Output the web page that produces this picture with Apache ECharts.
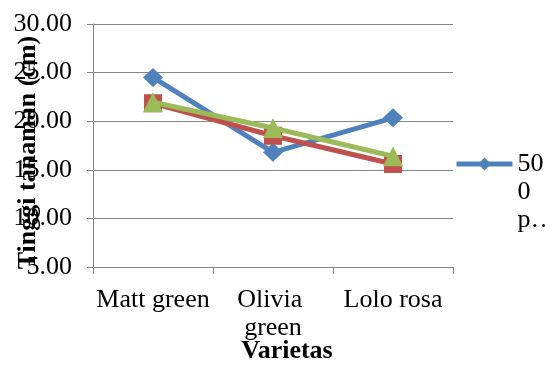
<!DOCTYPE html>
<html>
<head>
<meta charset="utf-8">
<script src="https://cdn.jsdelivr.net/npm/echarts@6/dist/echarts.min.js"></script>
<style>
  html, body { margin: 0; padding: 0; background: #fff; }
  #chart { width: 545px; height: 365px; }
</style>
</head>
<body>
<div id="chart"></div>
<script>
// Plant height (cm) per variety for three treatments
const categories = ['Matt green', 'Olivia green', 'Lolo rosa'];
const seriesNames = ['500 ppm', '1000 ppm', '1500 ppm'];
const series500 = [24.5, 16.8, 20.35];
const series1000 = [21.85, 18.5, 15.6];
const series1500 = [21.95, 19.3, 16.4];
const yTicks = { min: 5, max: 30, step: 5 };

const FONT = '"Liberation Serif", "Times New Roman", serif';
const GRAY = '#868686';
const colors = ['#4F81BD', '#C0504D', '#9BBB59'];
const symbols = ['diamond', 'rect', 'triangle'];
const symbolSizes = [[20, 19], 18, 20];
const values = [series500, series1000, series1500];

const chart = echarts.init(document.getElementById('chart'));
chart.setOption({
  animation: false,
  grid: {
    left: 93, right: 92, top: 24, bottom: 98,
    containLabel: false, outerBoundsMode: 'none'
  },
  legend: {
    data: [seriesNames[0]],
    left: 454,
    top: 94,
    padding: 0,
    itemWidth: 56,
    itemHeight: 16,
    itemGap: 5,
    lineStyle: { width: 5 },
    // the narrow legend column wraps and clips the series name;
    // two blank lines keep the first text line level with the icon
    formatter: () => '\n\n50\n0\np\u2026',
    textStyle: {
      fontFamily: FONT, fontSize: 26, color: '#000', lineHeight: 28
    }
  },
  xAxis: {
    type: 'category',
    data: categories,
    boundaryGap: true,
    name: 'Varietas',
    nameLocation: 'middle',
    nameGap: 71,
    nameMoveOverlap: false,
    nameTextStyle: {
      fontFamily: FONT, fontSize: 26, fontWeight: 'bold', color: '#000',
      padding: [0, 0, 0, 28]
    },
    axisLine: { lineStyle: { color: GRAY, width: 1 } },
    axisTick: { show: true, length: 7, lineStyle: { color: GRAY } },
    axisLabel: {
      fontFamily: FONT, fontSize: 26, color: '#000', margin: 19,
      lineHeight: 28, width: 116, overflow: 'break', interval: 0
    }
  },
  yAxis: {
    type: 'value',
    min: yTicks.min,
    max: yTicks.max,
    interval: yTicks.step,
    name: 'Tinggi tanaman (cm)',
    nameLocation: 'middle',
    nameGap: 52,
    nameMoveOverlap: false,
    nameTextStyle: {
      fontFamily: FONT, fontSize: 26, fontWeight: 'bold', color: '#000',
      padding: [0, 14, 0, 0]
    },
    axisLine: { show: true, lineStyle: { color: GRAY, width: 1 } },
    axisTick: { show: true, length: 6, lineStyle: { color: GRAY } },
    splitLine: { show: true, lineStyle: { color: GRAY, width: 1 } },
    axisLabel: {
      fontFamily: FONT, fontSize: 26, color: '#000', margin: 21,
      formatter: v => v.toFixed(2)
    }
  },
  series: values.map((d, i) => ({
    name: seriesNames[i],
    type: 'line',
    data: d,
    symbol: symbols[i],
    symbolSize: symbolSizes[i],
    z: 2 + i,
    lineStyle: { color: colors[i], width: 5 },
    itemStyle: { color: colors[i], borderWidth: 0 }
  }))
});
</script>
</body>
</html>
